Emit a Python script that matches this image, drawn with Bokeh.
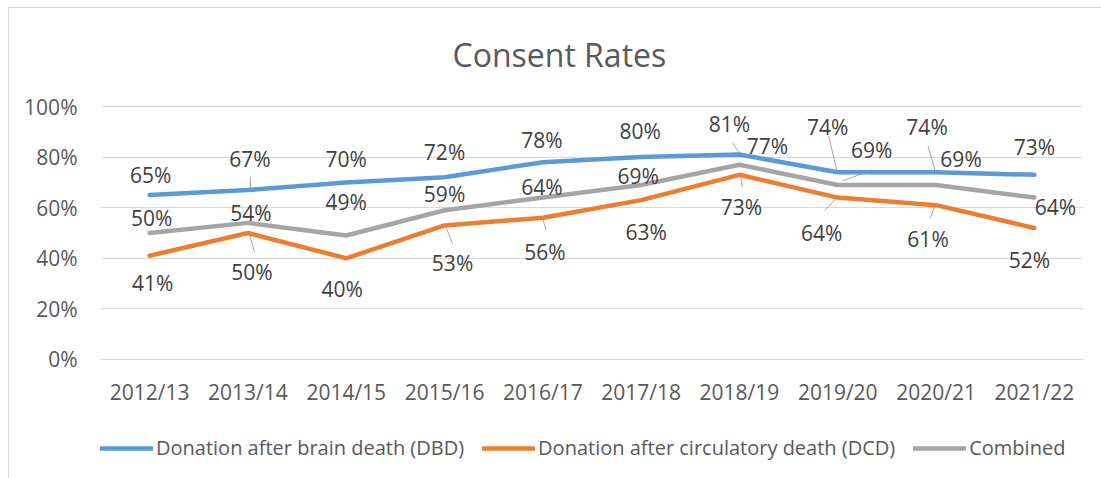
from bokeh.plotting import figure
from bokeh.layouts import column
from bokeh.models import (Range1d, FixedTicker, PrintfTickFormatter, Legend, LegendItem,
                          ColumnDataSource, Title)
from bokeh.core.properties import value
from bokeh.embed import file_html
from bokeh.resources import INLINE

# ---------------- data ----------------
years = ["2012/13", "2013/14", "2014/15", "2015/16", "2016/17",
         "2017/18", "2018/19", "2019/20", "2020/21", "2021/22"]
dbd = [65, 67, 70, 72, 78, 80, 81, 74, 74, 73]
dcd = [41, 50, 40, 53, 56, 63, 73, 64, 61, 52]
combined = [50, 54, 49, 59, 64, 69, 77, 69, 69, 64]
series_names = ["Donation after brain death (DBD)",
                "Donation after circulatory death (DCD)",
                "Combined"]
y_ticks = [0, 20, 40, 60, 80, 100]

# ---------------- layout / style ----------------
FONT = "Open Sans"
TXT = "#595959"
LBL = "#404040"
GRID = "#D9D9D9"
COLORS = ["#5B9BD5", "#ED7D31", "#A5A5A5"]
FS = "21px"

W = 1101
H_MAIN, H_LEG = 416, 62
ML, MR, MT, MB = 100, 18, 105, 56
frame_w = W - ML - MR
frame_h = H_MAIN - MT - MB
Y0, Y1 = -0.4, 100.4
px_x = frame_w / 10.0              # pixels per category
px_y = frame_h / (Y1 - Y0)         # pixels per percent

# data-label pixel offsets (dx, dy; dy positive = down)
off_dbd = [(1, -20), (2, -31), (0, -23), (0, -25), (-1, -22),
           (-1, -26), (-10, -31), (-10, -45), (-9, -45), (0, -28)]
off_dcd = [(3, 27), (4, 39), (-4, 31), (8, 38), (2, 34),
           (5, 32), (2, 32), (-16, 35), (-8, 34), (-5, 32)]
off_cmb = [(2, -15), (3, -10), (0, -34), (0, -16), (-1, -11),
           (-3, -9), (28, -19), (34, -35), (25, -26), (21, 9)]

# leader lines: (series, index, dx0, dy0, dx1, dy1) in pixels relative to point
leaders = [(0, 1, 2.5, -13, 2.5, -2), (0, 6, -7, -12, 0, -1),
           (0, 7, -9, -36, -1, -2), (0, 8, -8, -26, -1, -2),
           (2, 7, 34, -15, 5, -4),
           (1, 1, 1.5, 1, 6.5, 19), (1, 3, 1, 1, 8, 18), (1, 4, 0, 1, 3, 12),
           (1, 6, 1, 1, 3, 12), (1, 7, -2, 1, -13, 13), (1, 8, -1, 1, -6, 13)]

BORDER_TOP = ("linear-gradient(#D9D9D9,#D9D9D9) 8px 7px / 1px 100% no-repeat, "
              "linear-gradient(#D9D9D9,#D9D9D9) 8px 7px / 100% 1px no-repeat, white")
BORDER_LEFT = "linear-gradient(#D9D9D9,#D9D9D9) 8px 0px / 1px 100% no-repeat, white"

p = figure(width=W, height=H_MAIN, output_backend="svg", toolbar_location=None,
           x_range=Range1d(-0.5, 9.5), y_range=Range1d(Y0, Y1),
           min_border_left=ML, min_border_right=MR,
           min_border_top=MT, min_border_bottom=MB)
p.outline_line_color = None
p.background_fill_color = "white"
p.border_fill_alpha = 0
p.styles = {"background": BORDER_TOP}

p.title = Title(text="Consent Rates", text_font=FONT, text_font_size="32px",
                text_font_style="normal", text_color=TXT, align="left",
                offset=352, standoff=59)

# axes
p.xaxis.ticker = FixedTicker(ticks=list(range(len(years))))
p.xaxis.major_label_overrides = {i: y for i, y in enumerate(years)}
p.yaxis.ticker = FixedTicker(ticks=y_ticks)
p.yaxis.formatter = PrintfTickFormatter(format="%d%%")
for ax in (p.xaxis[0], p.yaxis[0]):
    ax.axis_line_color = None
    ax.major_tick_line_color = None
    ax.minor_tick_line_color = None
    ax.major_label_text_font = FONT
    ax.major_label_text_font_size = FS
    ax.major_label_text_color = TXT
p.yaxis.major_label_standoff = 17
p.xaxis.major_label_standoff = 11
p.xgrid.grid_line_color = None
p.ygrid.ticker = FixedTicker(ticks=y_ticks)
p.ygrid.grid_line_color = GRID
p.ygrid.grid_line_width = 1.2

xs = list(range(len(years)))
all_vals = [dbd, dcd, combined]
all_offs = [off_dbd, off_dcd, off_cmb]

# leader lines
lx0, ly0, lx1, ly1 = [], [], [], []
for s, i, dx0, dy0, dx1, dy1 in leaders:
    v = all_vals[s][i]
    lx0.append(i + dx0 / px_x); ly0.append(v - dy0 / px_y)
    lx1.append(i + dx1 / px_x); ly1.append(v - dy1 / px_y)
p.segment(x0=lx0, y0=ly0, x1=lx1, y1=ly1, line_color="#A6A6A6", line_width=1)

for vals, col in zip(all_vals, COLORS):
    p.line(xs, vals, line_color=col, line_width=4.5,
           line_join="round", line_cap="round")

for vals, offs in zip(all_vals, all_offs):
    src = ColumnDataSource(dict(x=xs, y=vals, t=[f"{v}%" for v in vals],
                                dx=[o[0] for o in offs], dy=[o[1] for o in offs]))
    p.text(x="x", y="y", text="t", x_offset="dx", y_offset="dy", source=src,
           text_font=value(FONT), text_font_size=FS, text_color=LBL,
           text_align="center", text_baseline="middle")

# ---------------- legend strip ----------------
lg = figure(width=W, height=H_LEG, output_backend="svg", toolbar_location=None,
            x_range=Range1d(0, 1), y_range=Range1d(0, 1),
            x_axis_type=None, y_axis_type=None,
            min_border_left=ML, min_border_right=MR, min_border_top=0, min_border_bottom=0)
lg.outline_line_color = None
lg.background_fill_alpha = 0
lg.border_fill_alpha = 0
lg.grid.visible = False
lg.styles = {"background": BORDER_LEFT}
# legend-only renderers: their single segment lies outside the visible range
leg_r = [lg.line([-5, -4], [-5, -5], line_color=col, line_width=4.5, line_cap="round")
         for col in COLORS]

legend = Legend(items=[LegendItem(label=n, renderers=[r]) for n, r in zip(series_names, leg_r)],
                orientation="horizontal", location=(0, 17), ncols=3, nrows=1,
                label_text_font=FONT, label_text_font_size="20px",
                label_text_color=TXT, glyph_width=53, glyph_height=20,
                label_standoff=3, spacing=18, padding=2, margin=0,
                border_line_color=None, background_fill_alpha=0)
lg.add_layout(legend, "center")

layout = column(p, lg, spacing=0)
open("out.html", "w").write(file_html(layout, INLINE))
